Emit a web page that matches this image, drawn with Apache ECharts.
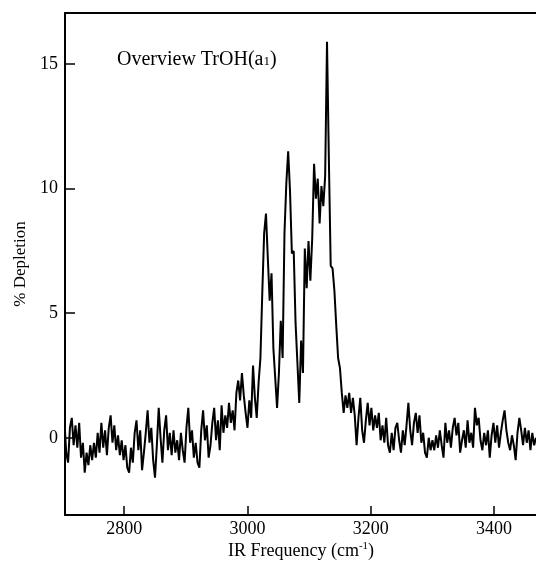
<!DOCTYPE html>
<html><head><meta charset="utf-8">
<script src="https://cdn.jsdelivr.net/npm/echarts@6/dist/echarts.min.js"></script>
<style>html,body{margin:0;padding:0;background:#fff}#c{width:536px;height:562px}</style>
</head><body><div id="c"></div>
<script>
const freq = [
2700,2703,2706,2709,2712,2715,2718,2721,2724,2727,2730,2733,2736,2739,2742,2745,2748,2751,2754,2757,
2760,2763,2766,2769,2772,2775,2778,2781,2784,2787,2790,2793,2796,2799,2802,2805,2808,2811,2814,2817,
2820,2823,2826,2829,2832,2835,2838,2841,2844,2847,2850,2853,2856,2859,2862,2865,2868,2871,2874,2877,
2880,2883,2886,2889,2892,2895,2898,2901,2904,2907,2910,2913,2916,2919,2922,2925,2928,2931,2934,2937,
2940,2943,2946,2949,2952,2955,2958,2961,2964,2967,2970,2973,2976,2979,2982,2985,2988,2991,2994,2997,
3000,3003,3006,3009,3012,3015,3018,3021,3024,3027,3030,3033,3036,3039,3042,3045,3048,3051,3054,3057,
3060,3063,3066,3069,3072,3075,3078,3081,3084,3087,3090,3093,3096,3099,3102,3105,3108,3111,3114,3117,
3120,3123,3126,3129,3132,3135,3138,3141,3144,3147,3150,3153,3156,3159,3162,3165,3168,3171,3174,3177,
3180,3183,3186,3189,3192,3195,3198,3201,3204,3207,3210,3213,3216,3219,3222,3225,3228,3231,3234,3237,
3240,3243,3246,3249,3252,3255,3258,3261,3264,3267,3270,3273,3276,3279,3282,3285,3288,3291,3294,3297,
3300,3303,3306,3309,3312,3315,3318,3321,3324,3327,3330,3333,3336,3339,3342,3345,3348,3351,3354,3357,
3360,3363,3366,3369,3372,3375,3378,3381,3384,3387,3390,3393,3396,3399,3402,3405,3408,3411,3414,3417,
3420,3423,3426,3429,3432,3435,3438,3441,3444,3447,3450,3453,3456,3459,3462,3465,3468
];
const depletion = [
0.3,0.7,-0.6,-1.0,0.4,0.8,-0.3,0.5,-0.4,0.6,-0.8,-0.2,-1.4,-0.6,-1.1,-0.3,-0.9,-0.2,-0.8,0.2,
-0.6,0.6,-0.4,0.3,-0.7,0.4,0.9,-0.2,0.5,-0.5,0.1,-0.7,-0.1,-0.9,-0.3,-1.2,-1.4,-0.4,-1.0,0.2,
0.7,-0.5,0.3,-1.3,-0.6,0.2,1.1,-0.2,0.4,-0.9,-1.6,-0.3,1.2,0.0,-1.0,0.3,0.9,-0.5,0.2,-0.7,
0.3,-0.6,-0.1,-0.9,0.2,-0.5,-1.0,0.4,1.2,-0.2,0.3,-0.8,-0.2,-1.0,-1.2,0.3,1.1,-0.1,0.5,-0.8,
-0.3,0.6,1.2,-0.1,0.7,-0.5,1.3,0.2,0.9,0.4,1.4,0.6,1.1,0.3,1.8,2.3,1.5,2.6,1.7,1.0,
0.4,1.5,0.8,2.9,1.6,0.8,2.2,3.2,5.8,8.2,9.0,7.2,5.5,6.6,3.6,2.4,1.2,2.6,4.7,3.2,
8.2,10.2,11.5,9.9,7.4,7.5,4.6,3.0,1.4,3.9,2.6,7.6,6.0,7.9,6.3,8.0,11.0,9.6,10.4,8.6,
10.1,9.3,10.5,15.9,11.2,6.9,6.8,5.9,4.5,3.2,2.8,1.8,1.0,1.7,1.2,1.8,1.0,1.6,0.9,-0.3,
0.8,1.6,0.3,-0.2,0.7,1.4,0.5,1.2,0.3,0.9,0.4,1.0,-0.1,0.5,-0.2,0.8,-0.3,-0.6,0.2,-0.5,
0.4,0.6,-0.1,-0.6,0.3,-0.3,0.5,1.4,0.3,-0.3,0.6,1.0,0.2,0.9,-0.2,0.2,-0.6,-0.8,0.0,-0.5,
-0.1,-0.5,0.1,-0.4,0.3,-0.3,-0.8,0.6,-0.2,0.3,-0.4,0.4,0.8,0.1,0.6,-0.6,-0.1,0.3,-0.4,0.7,
-0.2,0.2,-0.4,1.2,0.5,0.8,-0.1,-0.5,0.2,-0.3,0.3,-0.8,0.1,0.6,-0.2,0.5,-0.4,0.2,0.7,1.1,
0.3,-0.2,-0.5,0.1,-0.3,-0.9,0.2,0.8,0.3,-0.3,0.4,-0.2,0.3,-0.5,0.2,-0.3,0.0
];
const xTicks = [2800, 3000, 3200, 3400];
const yTicks = [0, 5, 10, 15];
const xLabel = 'IR Frequency (cm';
const xLabelSup = '-1';
const yLabel = '% Depletion';
const noteMain = 'Overview TrOH(a';
const noteSub = '1';

const serif = 'Liberation Serif, Times New Roman, serif';
const chart = echarts.init(document.getElementById('c'), null, {renderer: 'canvas'});
const option = {
  animation: false,
  backgroundColor: '#fff',
  grid: {left: 65, right: 0, top: 13, bottom: 47, containLabel: false, outerBoundsMode: 'none'},
  xAxis: [{
    type: 'value', min: 2704, max: 3468,
    axisLine: {show: true, onZero: false, lineStyle: {color: '#000', width: 2}},
    axisTick: {show: true, inside: true, length: 9, customValues: xTicks, lineStyle: {color: '#000', width: 1.5}},
    axisLabel: {customValues: xTicks, margin: 5, color: '#000', fontFamily: serif, fontSize: 18,
      formatter: v => String(v)},
    splitLine: {show: false}
  }, {
    type: 'value', min: 2704, max: 3468, position: 'top',
    axisLine: {show: true, onZero: false, lineStyle: {color: '#000', width: 2}},
    axisTick: {show: false}, axisLabel: {show: false}, splitLine: {show: false}
  }],
  yAxis: {
    type: 'value', min: -3.1, max: 17.05,
    name: yLabel, nameLocation: 'middle', nameRotate: 90, nameGap: 36,
    nameTextStyle: {color: '#000', fontFamily: serif, fontSize: 17},
    axisLine: {show: true, onZero: false, lineStyle: {color: '#000', width: 2}},
    axisTick: {show: true, inside: true, length: 10, customValues: yTicks, lineStyle: {color: '#000', width: 1.5}},
    axisLabel: {customValues: yTicks, margin: 7, color: '#000', fontFamily: serif, fontSize: 18,
      formatter: v => String(v)},
    splitLine: {show: false}
  },
  graphic: [{
    type: 'text', left: 117, top: 50,
    style: {
      text: '{a|' + noteMain + '}{s|' + noteSub + '}{a|)}',
      rich: {
        a: {fontFamily: serif, fontSize: 20, color: '#000', padding: [0, 0, 4, 0]},
        s: {fontFamily: serif, fontSize: 13, color: '#000'}
      }
    }
  }, {
    type: 'text', left: 228, top: 541,
    style: {
      text: '{a|' + xLabel + '}{s|' + xLabelSup + '}{a|)}',
      rich: {
        a: {fontFamily: serif, fontSize: 18, color: '#000'},
        s: {fontFamily: serif, fontSize: 11, color: '#000', padding: [0, 0, 10, 0]}
      }
    }
  }],
  series: [{
    type: 'line',
    data: freq.map((f, i) => [f, depletion[i]]),
    showSymbol: false,
    clip: true,
    lineStyle: {color: '#000', width: 2},
    xAxisIndex: 0
  }]
};
chart.setOption(option);
</script>
</body></html>
